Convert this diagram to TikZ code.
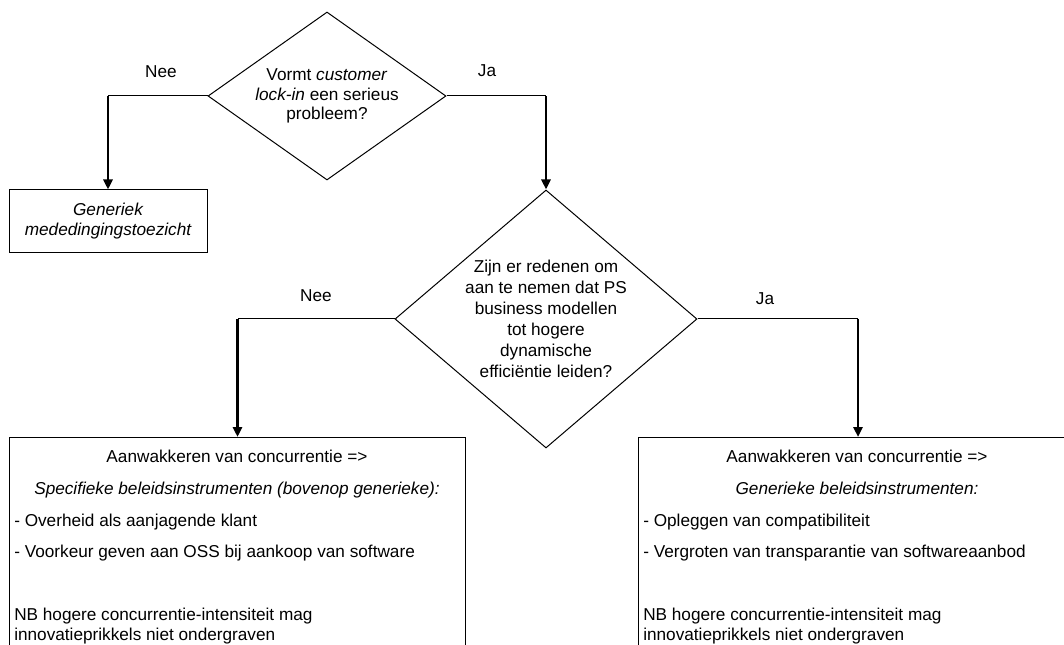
\documentclass[tikz,border=0pt]{standalone}
\usepackage{fontspec}
\setmainfont{Liberation Sans}
\usetikzlibrary{shapes,arrows.meta,positioning}
\newcommand{\flowfont}{\fontsize{12.9}{15}\selectfont}

\begin{document}
\begin{tikzpicture}[x=0.75pt, y=-0.75pt, every node/.style={font=\flowfont},
	decision/.style={draw, diamond, align=center, inner sep=-2pt, line width=0.75pt},
	outcome/.style={draw, rectangle, align=center, line width=0.75pt},
	branch/.style={line width=0.75pt},
	flow/.style={line width=2.2pt, -{Triangle[length=7.5pt, width=6.75pt]}},
	line/.style={inner sep=0pt}]
	\useasboundingbox (0,0) rectangle (1064,645);
	\clip (0,0) rectangle (1064,645);
	\node[decision, minimum width=178.5pt, minimum height=126pt, aspect=1.42, font=\fontsize{12.9}{14.6}\selectfont] (lockin) at (327,96) {Vormt \textit{customer}\\ \textit{lock-in} een serieus\\ probleem?};
	\node[decision, minimum width=226.5pt, minimum height=193.5pt, aspect=1.17, font=\fontsize{12.9}{15.75}\selectfont] (dynamiek) at (546,319) {Zijn er redenen om\\ aan te nemen dat PS\\ business modellen\\ tot hogere\\ dynamische\\ efficiëntie leiden?};
	\node[outcome, minimum width=148.5pt, minimum height=47.25pt, font=\flowfont\itshape] (toezicht) at (108,221.5) {Generiek\\ mededingingstoezicht};
	\node[outcome, minimum width=342pt, minimum height=225pt, anchor=north west] (neebox) at (9,437) {};
	\node[outcome, minimum width=329.25pt, minimum height=225pt, anchor=north west] (jabox) at (638,437) {};
	\node (neeA) at (161,72) {Nee};
	\node (jaA) at (487,71) {Ja};
	\node (neeB) at (316,296) {Nee};
	\node (jaB) at (765,299) {Ja};
	\draw[branch] (lockin.west) -- (lockin.west -| toezicht.north);
	\draw[flow] (lockin.west -| toezicht.north) -- (toezicht.north);
	\draw[branch] (lockin.east) -- (lockin.east -| dynamiek.north);
	\draw[flow] (lockin.east -| dynamiek.north) -- (dynamiek.north);
	\draw[branch] (dynamiek.west) -- (dynamiek.west -| neebox.north);
	\draw[flow] (dynamiek.west -| neebox.north) -- (neebox.north);
	\draw[branch] (dynamiek.east) -- (dynamiek.east -| jabox.north);
	\draw[flow] (dynamiek.east -| jabox.north) -- (jabox.north);
	\node[line, anchor=base] (neekop) at (237,462) {Aanwakkeren van concurrentie =>};
	\node[line, anchor=base] (neesoort) at (237,494) {\textit{Specifieke beleidsinstrumenten (bovenop generieke):}};
	\node[line, anchor=base west] (neeeen) at (14,526) {- Overheid als aanjagende klant};
	\node[line, anchor=base west] (neetwee) at (14,557) {- Voorkeur geven aan OSS bij aankoop van software};
	\node[line, anchor=base west] (neenbA) at (14,620) {NB hogere concurrentie-intensiteit mag};
	\node[line, anchor=base west] (neenbB) at (14,640) {innovatieprikkels niet ondergraven};
	\node[line, anchor=base] (jakop) at (857,462) {Aanwakkeren van concurrentie =>};
	\node[line, anchor=base] (jasoort) at (857,494) {\textit{Generieke beleidsinstrumenten:}};
	\node[line, anchor=base west] (jaeen) at (643,526) {- Opleggen van compatibiliteit};
	\node[line, anchor=base west] (jatwee) at (643,557) {- Vergroten van transparantie van softwareaanbod};
	\node[line, anchor=base west] (janbA) at (643,620) {NB hogere concurrentie-intensiteit mag};
	\node[line, anchor=base west] (janbB) at (643,640) {innovatieprikkels niet ondergraven};
\end{tikzpicture}
\end{document}
